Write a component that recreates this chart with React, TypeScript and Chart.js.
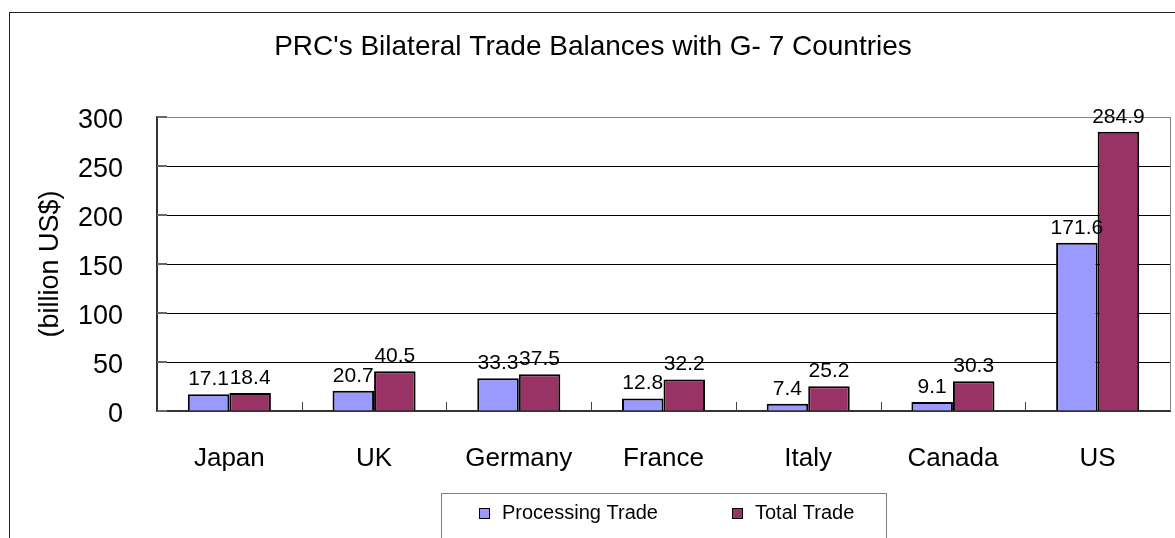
import React, { useEffect, useRef } from "react";
import { Chart, registerables } from "chart.js";

Chart.register(...registerables);

const categories = ["Japan", "UK", "Germany", "France", "Italy", "Canada", "US"];
const processingTrade = [17.1, 20.7, 33.3, 12.8, 7.4, 9.1, 171.6];
const totalTrade = [18.4, 40.5, 37.5, 32.2, 25.2, 30.3, 284.9];
const seriesLabels = ["Processing Trade", "Total Trade"];
const yTicks = [0, 50, 100, 150, 200, 250, 300];
const chartTitle = "PRC's Bilateral Trade Balances with G- 7 Countries";
const yTitle = "(billion US$)";

const FONT = '"Liberation Sans", Arial, sans-serif';

const decorPlugin = {
  id: "decor",
  beforeDraw(chart: any) {
    const ctx = chart.ctx;
    ctx.save();
    ctx.fillStyle = "#fff";
    ctx.fillRect(0, 0, chart.width, chart.height);
    // outer frame
    ctx.strokeStyle = "#222";
    ctx.lineWidth = 1;
    ctx.strokeRect(9.5, 12.5, 3000, 3000);
    // title
    ctx.fillStyle = "#000";
    ctx.font = `28px ${FONT}`;
    ctx.textAlign = "center";
    ctx.textBaseline = "middle";
    ctx.fillText(chartTitle, 593, 47);
    ctx.restore();
  },
  afterDatasetsDraw(chart: any) {
    const ctx = chart.ctx;
    ctx.save();
    ctx.fillStyle = "#000";
    ctx.font = `21px ${FONT}`;
    ctx.textAlign = "center";
    ctx.textBaseline = "alphabetic";
    chart.data.datasets.forEach((ds: any, di: number) => {
      const meta = chart.getDatasetMeta(di);
      meta.data.forEach((el: any, i: number) => {
        ctx.fillText(String(ds.data[i]), el.x, el.y - 9);
      });
    });
    ctx.restore();
  },
  afterDraw(chart: any) {
    const ctx = chart.ctx;
    const area = chart.chartArea;
    const xs = chart.scales.x;
    const ys = chart.scales.y;
    ctx.save();
    // right border of plot
    ctx.strokeStyle = "#808080";
    ctx.lineWidth = 1;
    ctx.beginPath();
    ctx.moveTo(Math.round(area.right) + 0.5, area.top);
    ctx.lineTo(Math.round(area.right) + 0.5, area.bottom);
    ctx.stroke();
    // inward y ticks
    ctx.strokeStyle = "#666";
    ctx.lineWidth = 2;
    ctx.beginPath();
    yTicks.forEach((v) => {
      const py = Math.round(ys.getPixelForValue(v));
      ctx.moveTo(area.left, py);
      ctx.lineTo(area.left + 10, py);
    });
    ctx.stroke();
    // inward x ticks between categories
    ctx.strokeStyle = "#444";
    ctx.lineWidth = 1;
    ctx.beginPath();
    for (let i = 1; i < categories.length; i++) {
      const px = Math.round((xs.getPixelForValue(i - 1) + xs.getPixelForValue(i)) / 2) + 0.5;
      ctx.moveTo(px, area.bottom);
      ctx.lineTo(px, area.bottom - 9);
    }
    ctx.stroke();
    // legend
    const lx = 441.5, ly = 493.5;
    ctx.strokeStyle = "#808080";
    ctx.lineWidth = 1;
    ctx.strokeRect(lx, ly, 445, 200);
    const itemX = [479, 732];
    ctx.font = `20px ${FONT}`;
    ctx.textAlign = "left";
    ctx.textBaseline = "alphabetic";
    chart.data.datasets.forEach((ds: any, di: number) => {
      const x = itemX[di];
      ctx.fillStyle = ds.backgroundColor;
      ctx.fillRect(x, 508, 11, 11);
      ctx.strokeStyle = "#000";
      ctx.lineWidth = 1;
      ctx.strokeRect(x + 0.5, 508.5, 10, 10);
      ctx.fillStyle = "#000";
      ctx.fillText(ds.label, x + 23, 519);
    });
    ctx.restore();
  },
};

export default function App() {
  const ref = useRef<HTMLCanvasElement | null>(null);
  useEffect(() => {
    if (!ref.current) return;
    const chart = new Chart(ref.current, {
      type: "bar",
      data: {
        labels: categories,
        datasets: [
          {
            label: seriesLabels[0],
            data: processingTrade,
            backgroundColor: "#9999FF",
            borderColor: "#000",
            borderWidth: 2,
            categoryPercentage: 0.574,
            barPercentage: 1.0,
          },
          {
            label: seriesLabels[1],
            data: totalTrade,
            backgroundColor: "#993366",
            borderColor: "#000",
            borderWidth: 2,
            categoryPercentage: 0.574,
            barPercentage: 1.0,
          },
        ],
      },
      options: {
        responsive: false,
        animation: false,
        layout: { padding: { left: 0, top: 117, right: 5, bottom: 0 } },
        plugins: {
          legend: { display: false },
          title: { display: false },
          tooltip: { enabled: false },
        },
        scales: {
          x: {
            grid: { display: false, drawTicks: false },
            border: { display: true, color: "#333", width: 2 },
            ticks: {
              color: "#000",
              font: { family: FONT, size: 26 },
              padding: 32,
              maxRotation: 0,
              autoSkip: false,
            },
            afterFit(scale: any) {
              scale.height = 127;
            },
          },
          y: {
            min: 0,
            max: 300,
            afterBuildTicks(scale: any) {
              scale.ticks = yTicks.map((v) => ({ value: v }));
            },
            grid: {
              drawTicks: false,
              color: (c: any) => (c.tick && c.tick.value === 300 ? "#808080" : "#000"),
              lineWidth: 1,
            },
            border: { display: true, color: "#333", width: 2 },
            ticks: {
              color: "#000",
              font: { family: FONT, size: 27 },
              padding: 34,
              labelOffset: 4,
            },
            title: {
              display: true,
              text: yTitle,
              color: "#000",
              font: { family: FONT, size: 27, weight: "normal" },
              padding: { top: 34, bottom: 0 },
            },
            afterFit(scale: any) {
              scale.width = 157;
            },
          },
        },
      },
      plugins: [decorPlugin],
    });
    return () => chart.destroy();
  }, []);
  return (
    <div style={{ position: "fixed", left: 0, top: 0, width: 1175, height: 538, background: "#fff" }}>
      <canvas ref={ref} width={1175} height={538} style={{ display: "block" }} />
    </div>
  );
}
